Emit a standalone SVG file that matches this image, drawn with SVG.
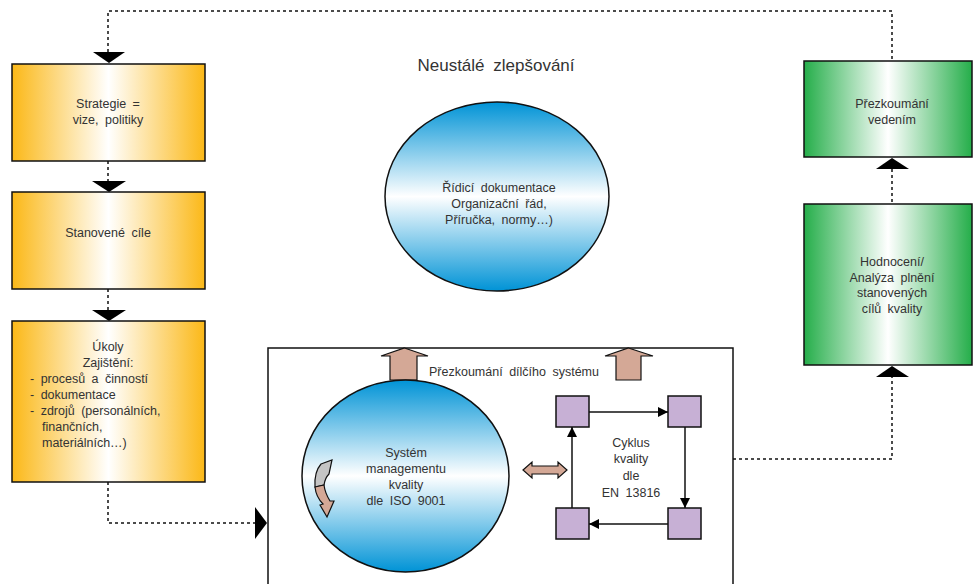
<svg xmlns="http://www.w3.org/2000/svg" width="973" height="584" viewBox="0 0 973 584">
<defs>
<linearGradient id="gy" x1="0" y1="0" x2="1" y2="0">
<stop offset="0" stop-color="#FBB817"/><stop offset="0.5" stop-color="#FFFFFF"/><stop offset="1" stop-color="#FBB817"/>
</linearGradient>
<linearGradient id="gg" x1="0" y1="0" x2="1" y2="0">
<stop offset="0" stop-color="#25AE4A"/><stop offset="0.5" stop-color="#FFFFFF"/><stop offset="1" stop-color="#25AE4A"/>
</linearGradient>
<linearGradient id="gb" x1="0" y1="0" x2="0" y2="1">
<stop offset="0" stop-color="#0093D6"/><stop offset="0.5" stop-color="#FFFFFF"/><stop offset="1" stop-color="#0093D6"/>
</linearGradient>
<marker id="ah" viewBox="0 0 10 10" refX="10" refY="5" markerWidth="10" markerHeight="10" markerUnits="userSpaceOnUse" orient="auto">
<path d="M0,0 L10,5 L0,10 Z" fill="#000"/>
</marker>
</defs>
<style>
text{font-family:"Liberation Sans",Arial,sans-serif;font-size:12.5px;fill:#333;text-anchor:middle;word-spacing:3px}
.box{stroke:#111;stroke-width:1.5}
.dash{fill:none;stroke:#111;stroke-width:1.5;stroke-dasharray:3,3}
.solid{fill:none;stroke:#111;stroke-width:1.5}
.tri{fill:#000}
.sal{fill:#D4A896;stroke:#111;stroke-width:1.2}
.sq{fill:#C7B0D5;stroke:#111;stroke-width:1.5}
</style>

<g id="connectors">
<polyline class="dash" points="108,52 108,11 892,11 892,61"/>
<path class="tri" d="M93,52 L125,52 L109,63 Z"/>
<line class="dash" x1="108" y1="161" x2="108" y2="181"/>
<path class="tri" d="M92,181 L126,181 L109,192 Z"/>
<line class="dash" x1="108" y1="289" x2="108" y2="310"/>
<path class="tri" d="M92,310 L126,310 L109,321 Z"/>
<polyline class="dash" points="108,482 108,523 255,523"/>
<path class="tri" d="M255,507 L267,523 L255,539 Z"/>
<line class="dash" x1="892" y1="169" x2="892" y2="204"/>
<path class="tri" d="M876,169 L909,169 L892,158 Z"/>
<polyline class="dash" points="733,459 892,459 892,377"/>
<path class="tri" d="M876,377 L909,377 L892,366 Z"/>
</g>

<g id="title">
<text x="496" y="71" style="font-size:17px;word-spacing:4px">Neustálé zlepšování</text>
</g>

<g id="strategie">
<rect class="box" x="12" y="64" width="193" height="97" fill="url(#gy)"/>
<text x="108" y="108">Strategie =</text>
<text x="108" y="124">vize, politiky</text>
</g>

<g id="cile">
<rect class="box" x="12" y="192" width="193" height="97" fill="url(#gy)"/>
<text x="108" y="237">Stanovené cíle</text>
</g>

<g id="ukoly">
<rect class="box" x="12" y="321" width="193" height="161" fill="url(#gy)"/>
<text x="108" y="351">Úkoly</text>
<text x="108" y="367">Zajištění:</text>
<text x="30" y="383" style="text-anchor:start">- procesů a činností</text>
<text x="30" y="399" style="text-anchor:start">- dokumentace</text>
<text x="30" y="415" style="text-anchor:start">- zdrojů (personálních,</text>
<text x="42" y="431" style="text-anchor:start">finančních,</text>
<text x="42" y="447" style="text-anchor:start">materiálních…)</text>
</g>

<g id="ridici">
<ellipse class="box" cx="497" cy="196.5" rx="112" ry="94.5" fill="url(#gb)"/>
<text x="499" y="192">Řídicí dokumentace</text>
<text x="499" y="208">Organizační řád,</text>
<text x="499" y="224">Příručka, normy…)</text>
</g>

<g id="prezkoumani">
<rect class="box" x="804" y="61" width="168" height="96" fill="url(#gg)"/>
<text x="892" y="108">Přezkoumání</text>
<text x="892" y="124">vedením</text>
</g>

<g id="hodnoceni">
<rect class="box" x="804" y="204" width="168" height="161" fill="url(#gg)"/>
<text x="892" y="266">Hodnocení/</text>
<text x="892" y="282">Analýza plnění</text>
<text x="892" y="297">stanovených</text>
<text x="892" y="313">cílů kvality</text>
</g>

<g id="subsystem">
<rect class="box" x="268" y="348" width="465" height="250" fill="#fff"/>
<path class="sal" d="M404.5,348 L428,356 L417,356 L417,380 L390,380 L390,356 L381,356 Z"/>
<path class="sal" d="M628.5,348 L653,356 L641,356 L641,380 L616,380 L616,356 L605,356 Z"/>
<text x="514" y="376">Přezkoumání dílčího systému</text>
</g>

<g id="qms">
<ellipse class="box" cx="405.5" cy="476" rx="103.5" ry="96" fill="url(#gb)"/>
<path d="M321,464 L332,460 L329,474 Q325,478 324,485 L315,487 Q314,472 321,464 Z" fill="#C4C4C4" stroke="#111" stroke-width="1.2"/>
<path d="M315,487 L324,485 Q325,493 330,501 L334,501 L327,517 L320,505 L323,504 Q316,497 315,487 Z" fill="#D4A896" stroke="#111" stroke-width="1.2"/>
<text x="406" y="457">Systém</text>
<text x="406" y="473">managementu</text>
<text x="406" y="489">kvality</text>
<text x="406" y="505">dle ISO 9001</text>
</g>

<g id="double-arrow">
<path class="sal" d="M523,470 L532,462 L532,466 L558,466 L558,462 L567,470 L558,478 L558,474 L532,474 L532,478 Z"/>
</g>

<g id="cyklus">
<rect class="sq" x="556" y="396" width="33" height="31"/>
<rect class="sq" x="668" y="396" width="33" height="31"/>
<rect class="sq" x="668" y="508" width="33" height="31"/>
<rect class="sq" x="556" y="508" width="33" height="31"/>
<line class="solid" x1="589" y1="412" x2="668" y2="412" marker-end="url(#ah)"/>
<line class="solid" x1="685" y1="427" x2="685" y2="508" marker-end="url(#ah)"/>
<line class="solid" x1="668" y1="524" x2="589" y2="524" marker-end="url(#ah)"/>
<line class="solid" x1="572" y1="508" x2="572" y2="427" marker-end="url(#ah)"/>
<text x="631" y="447">Cyklus</text>
<text x="631" y="463">kvality</text>
<text x="631" y="480">dle</text>
<text x="631" y="497">EN 13816</text>
</g>
</svg>
